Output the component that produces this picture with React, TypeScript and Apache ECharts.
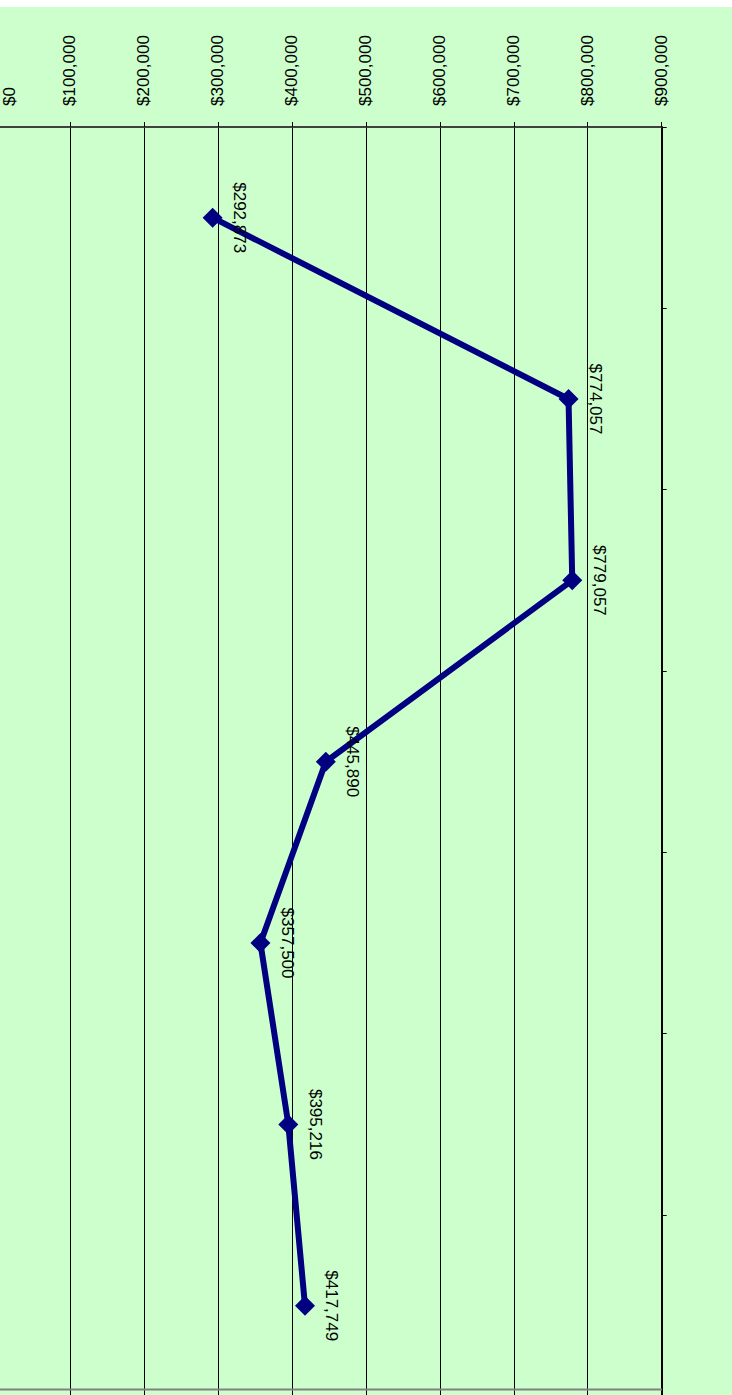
import React, { useEffect, useRef } from "react";
import * as echarts from "echarts";

const categories = ["1", "2", "3", "4", "5", "6", "7"];
const values = [292873, 774057, 779057, 445890, 357500, 395216, 417749];
const valueMin = 0;
const valueMax = 900000;
const valueStep = 100000;

const fmt = (v: number) => "$" + Math.round(v).toLocaleString("en-US");
const FONT = "'Liberation Sans', Arial, Helvetica, sans-serif";

export default function App() {
  const ref = useRef<HTMLDivElement>(null);
  useEffect(() => {
    if (!ref.current) return;
    const chart = echarts.init(ref.current, null, { renderer: "svg" });
    chart.setOption({
      animation: false,
      backgroundColor: "#CCFFCC",
      grid: {
        left: -4,
        top: 127,
        width: 665.7,
        height: 1269.4,
        containLabel: false,
        outerBoundsMode: "none",
      },
      xAxis: {
        type: "value",
        position: "top",
        min: valueMin,
        max: valueMax,
        interval: valueStep,
        axisLine: { show: true, onZero: false, lineStyle: { color: "#404040", width: 2 } },
        axisTick: { show: true, length: 5, inside: false, lineStyle: { color: "#000", width: 1 } },
        splitLine: { show: true, lineStyle: { color: "#000", width: 1 } },
        axisLabel: {
          rotate: -90,
          margin: 21,
          fontSize: 17,
          fontFamily: FONT,
          color: "#000",
          formatter: (v: number) => (v === 0 ? "{z|" + fmt(v) + "}" : fmt(v)),
          rich: { z: { padding: [26, 0, 0, 0], fontSize: 17, fontFamily: FONT, color: "#000" } },
        },
      },
      yAxis: {
        type: "category",
        position: "right",
        inverse: true,
        data: categories,
        boundaryGap: true,
        axisLine: { show: true, onZero: false, lineStyle: { color: "#000", width: 2 } },
        axisTick: { show: true, length: 5, inside: false, lineStyle: { color: "#000", width: 1 } },
        axisLabel: { show: false },
        splitLine: { show: false },
      },
      graphic: [
        { type: "rect", shape: { x: 0, y: 0, width: 732, height: 7 }, style: { fill: "#FFFFFF" }, z: 100 },
        {
          type: "line",
          shape: { x1: 0, y1: 1389.5, x2: 662, y2: 1389.5 },
          style: { stroke: "#808080", lineWidth: 2 },
          z: 100,
        },
      ],
      series: [
        {
          type: "line",
          data: values,
          symbol: "diamond",
          symbolSize: 20,
          lineStyle: { color: "#000080", width: 6 },
          itemStyle: { color: "#000080" },
          label: {
            show: true,
            position: "right",
            distance: 17,
            rotate: -90,
            align: "center",
            verticalAlign: "middle",
            fontSize: 17,
            fontFamily: FONT,
            color: "#000",
            formatter: (p: any) => fmt(p.value),
          },
          z: 5,
        },
      ],
    });
    return () => chart.dispose();
  }, []);
  return (
    <div
      ref={ref}
      style={{ position: "absolute", left: 0, top: 0, width: 732, height: 1395 }}
    />
  );
}
